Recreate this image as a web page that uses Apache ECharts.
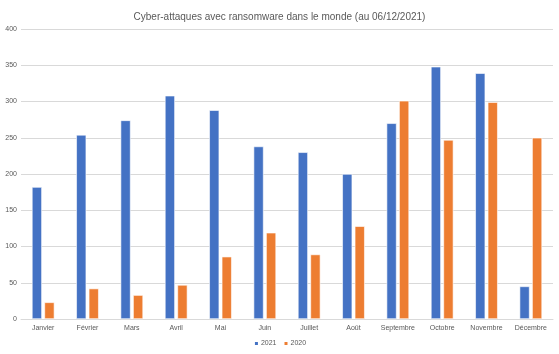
<!DOCTYPE html>
<html>
<head>
<meta charset="utf-8">
<script src="https://cdn.jsdelivr.net/npm/echarts@6/dist/echarts.min.js"></script>
<style>
  html, body { margin: 0; padding: 0; background: #fff; }
  #main { width: 559px; height: 354px; }
</style>
</head>
<body>
<div id="main"></div>
<script>
// months and attack counts per year
const months = ['Janvier', 'Février', 'Mars', 'Avril', 'Mai', 'Juin', 'Juillet', 'Août', 'Septembre', 'Octobre', 'Novembre', 'Décembre'];
const values2021 = [182, 254, 274, 308, 288, 238, 230, 200, 270, 348, 339, 45];
const values2020 = [23, 42, 33, 47, 86, 119, 89, 128, 301, 247, 299, 250];
const yTicks = [0, 50, 100, 150, 200, 250, 300, 350, 400];

const FONT = 'Liberation Sans, sans-serif';
const chart = echarts.init(document.getElementById('main'));

chart.setOption({
  animation: false,
  backgroundColor: '#fff',
  title: {
    text: 'Cyber-attaques avec ransomware dans le monde (au 06/12/2021)',
    left: 'center',
    top: 7,
    textStyle: { fontFamily: FONT, fontSize: 10, fontWeight: 'normal', color: '#595959' }
  },
  legend: {
    bottom: 2,
    left: 'center',
    itemWidth: 5,
    itemHeight: 5,
    itemGap: 6,
    icon: 'rect',
    textStyle: { fontFamily: FONT, fontSize: 7, color: '#595959', padding: [0, 0, 0, -3] }
  },
  grid: { left: 21, right: 6, top: 29, bottom: 35 },
  xAxis: {
    type: 'category',
    data: months,
    axisLine: { lineStyle: { color: '#d9d9d9' } },
    axisTick: { show: false },
    axisLabel: { fontFamily: FONT, fontSize: 7, color: '#595959', margin: 6, interval: 0 }
  },
  yAxis: {
    type: 'value',
    min: yTicks[0],
    max: yTicks[yTicks.length - 1],
    interval: 50,
    axisLine: { show: false },
    axisTick: { show: false },
    splitLine: { lineStyle: { color: '#d9d9d9' } },
    axisLabel: { fontFamily: FONT, fontSize: 7, color: '#595959', margin: 4 }
  },
  series: [
    {
      name: '2021',
      type: 'bar',
      data: values2021,
      barWidth: 10,
      barGap: '25%',
      itemStyle: { color: '#4472C4', borderColor: '#fff', borderWidth: 0.6 }
    },
    {
      name: '2020',
      type: 'bar',
      data: values2020,
      barWidth: 10,
      itemStyle: { color: '#ED7D31', borderColor: '#fff', borderWidth: 0.6 }
    }
  ]
});
</script>
</body>
</html>
